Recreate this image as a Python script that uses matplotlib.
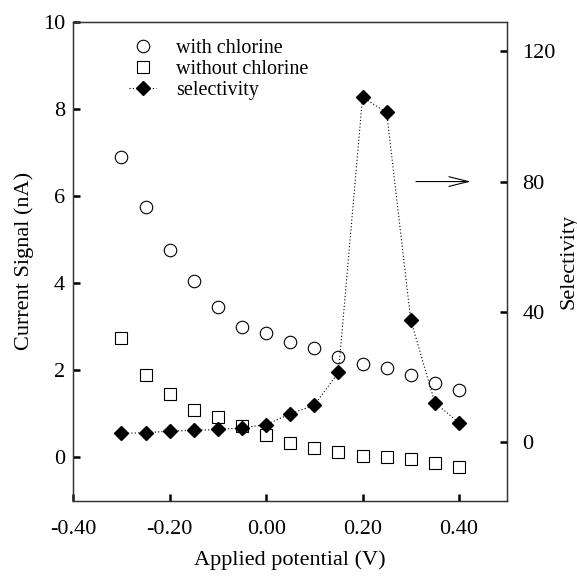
import matplotlib
matplotlib.use("Agg")
import matplotlib.pyplot as plt

# applied potential (V)
potential = [-0.30, -0.25, -0.20, -0.15, -0.10, -0.05, 0.00, 0.05,
             0.10, 0.15, 0.20, 0.25, 0.30, 0.35, 0.40]
# current signal (nA)
with_cl = [6.9, 5.75, 4.75, 4.05, 3.45, 3.0, 2.85, 2.65,
           2.5, 2.3, 2.15, 2.05, 1.9, 1.7, 1.55]
without_cl = [2.75, 1.9, 1.45, 1.08, 0.92, 0.72, 0.52, 0.33,
              0.22, 0.13, 0.03, 0.0, -0.03, -0.12, -0.22]
# selectivity (right axis)
selectivity = [2.7, 2.9, 3.4, 3.6, 3.9, 4.4, 5.4, 8.7,
               11.4, 21.4, 105.9, 101.2, 37.5, 12.1, 6.0]

xticks = [-0.40, -0.20, 0.00, 0.20, 0.40]
lticks = [0, 2, 4, 6, 8, 10]
rticks = [0, 40, 80, 120]

plt.rcParams['font.family'] = ['Liberation Serif', 'DejaVu Serif']

fig = plt.figure(figsize=(5.77, 5.77), dpi=100)
ax = fig.add_axes([0.127, 0.132, 0.752, 0.830])
ax2 = ax.twinx()

h1, = ax.plot(potential, with_cl, 'o', ms=9, mfc='white', mec='black',
              mew=0.8, ls='none', label='with chlorine')
h2, = ax.plot(potential, without_cl, 's', ms=8, mfc='white', mec='black',
              mew=0.8, ls='none', label='without chlorine')
h3, = ax2.plot(potential, selectivity, 'D', ms=7.5, color='black',
               ls=(0, (1, 2)), lw=0.8, label='selectivity')

ax.set_xlim(-0.40, 0.50)
ax.set_ylim(-1, 10)
ax2.set_ylim(-18, 129)

ax.set_xticks(xticks)
ax.set_xticklabels(['%.2f' % v for v in xticks])
ax.set_yticks(lticks)
ax2.set_yticks(rticks)

ax.tick_params(axis='y', direction='in', length=5, width=1.8,
               labelsize=16, pad=6)
ax.tick_params(axis='x', direction='in', length=5, width=1.8,
               labelsize=16, pad=14)
ax2.tick_params(axis='y', direction='in', length=5, width=1.8,
                labelsize=16, pad=11)

for a in (ax, ax2):
    for s in a.spines.values():
        s.set_linewidth(0.9)
        s.set_color('#333333')

ax.set_xlabel('Applied potential (V)', fontsize=16, labelpad=8)
ax.set_ylabel('Current Signal (nA)', fontsize=16, labelpad=6)
ax2.set_ylabel('Selectivity', fontsize=16)
ax2.yaxis.set_label_coords(1.12, 0.5)

# arrow pointing to the right axis
ax2.annotate('', xy=(0.43, 80), xytext=(0.305, 80),
             arrowprops=dict(arrowstyle='->,head_length=1.4,head_width=0.35',
                             lw=0.8, color='black'))

ax.legend(handles=[h1, h2, h3], loc='upper left', frameon=False,
          fontsize=14.5, bbox_to_anchor=(0.09, 1.0), handlelength=1.3,
          handletextpad=1.0, labelspacing=0.1, borderaxespad=0.45)

fig.savefig('out.png', dpi=100)
